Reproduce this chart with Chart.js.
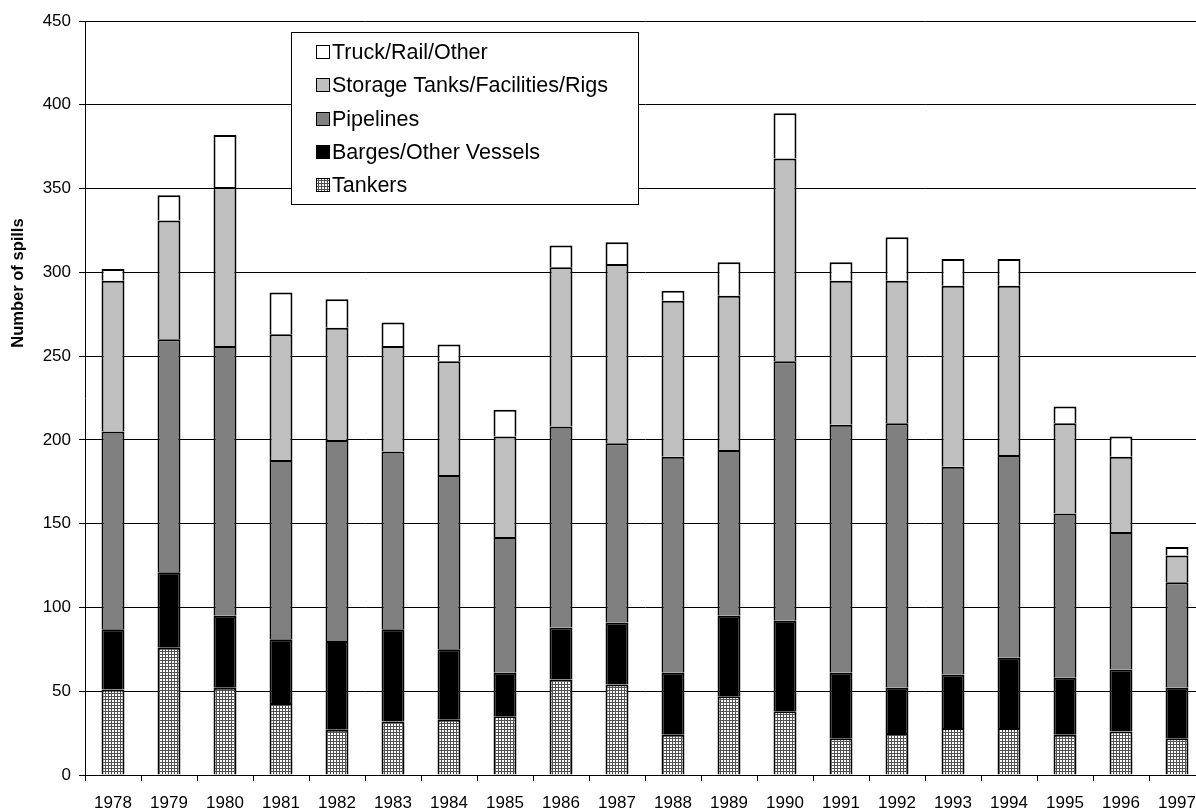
<!DOCTYPE html>
<html>
<head>
<meta charset="utf-8">
<script src="https://cdn.jsdelivr.net/npm/chart.js@4.4.1/dist/chart.umd.min.js"></script>
<style>
  html, body { margin: 0; padding: 0; background: #fff; overflow: hidden; width: 1196px; height: 811px; }
  canvas { display: block; }
</style>
</head>
<body>
<canvas id="spills" width="1210" height="811"></canvas>
<script>
// Oil spills per year, split by source
const years = ['1978','1979','1980','1981','1982','1983','1984','1985','1986','1987',
               '1988','1989','1990','1991','1992','1993','1994','1995','1996','1997'];
const tankers        = [51, 76, 52, 43, 27, 32, 33, 35, 57, 54, 24, 47, 38, 22, 25, 28, 28, 24, 26, 22];
const barges         = [36, 45, 43, 38, 53, 55, 42, 26, 31, 37, 37, 48, 54, 39, 27, 32, 42, 34, 37, 30];
const pipelines      = [118, 139, 161, 107, 120, 106, 104, 81, 120, 107, 129, 99, 155, 148, 158, 124, 121, 98, 82, 63];
const storage        = [90, 71, 95, 75, 67, 63, 68, 60, 95, 107, 93, 92, 121, 86, 85, 108, 101, 54, 45, 16];
const truckRailOther = [7, 15, 31, 25, 17, 14, 10, 16, 13, 13, 6, 20, 27, 11, 26, 16, 16, 10, 12, 5];

const yMax = 450;
const yStep = 50;
const yTitle = 'Number of spills';

const FONT = '"Liberation Sans", Arial, Helvetica, sans-serif';

const canvas = document.getElementById('spills');
const ctx = canvas.getContext('2d');

// Fine cross-hatch used for the tanker segments
function crossHatch() {
  const tile = document.createElement('canvas');
  tile.width = 3; tile.height = 3;
  const t = tile.getContext('2d');
  t.fillStyle = '#ffffff';
  t.fillRect(0, 0, 3, 3);
  t.fillStyle = '#505050';
  t.fillRect(0, 0, 3, 1);
  t.fillRect(0, 0, 1, 3);
  return ctx.createPattern(tile, 'repeat');
}

// Framed legend placed inside the plot, listed top series first
const boxLegend = {
  id: 'boxLegend',
  afterDraw(chart) {
    const c = chart.ctx;
    const left = 291.5, top = 32.5, w = 347, h = 172;
    c.save();
    c.fillStyle = '#fff';
    c.fillRect(left, top, w, h);
    c.strokeStyle = '#000';
    c.lineWidth = 1;
    c.strokeRect(left, top, w, h);
    c.font = '21.5px ' + FONT;
    c.textBaseline = 'middle';
    c.textAlign = 'left';
    const items = chart.data.datasets.slice().reverse();
    items.forEach((d, i) => {
      const cy = Math.round(52 + i * 33.3);
      c.fillStyle = d.backgroundColor;
      c.fillRect(316, cy - 7, 14, 14);
      c.strokeStyle = '#000';
      c.strokeRect(316.5, cy - 6.5, 13, 13);
      c.fillStyle = '#000';
      c.fillText(d.label, 332, cy + 1);
    });
    c.restore();
  }
};

// Vertical axis caption
const axisCaption = {
  id: 'axisCaption',
  afterDraw(chart) {
    const c = chart.ctx;
    c.save();
    c.translate(18, 283);
    c.rotate(-Math.PI / 2);
    c.font = 'bold 16.5px ' + FONT;
    c.fillStyle = '#000';
    c.textAlign = 'center';
    c.textBaseline = 'middle';
    c.fillText(yTitle, 0, 0);
    c.restore();
  }
};

const segment = (label, data, fill) => ({
  label, data,
  backgroundColor: fill,
  borderColor: '#000',
  borderWidth: 2,
  borderSkipped: 'start',
  barPercentage: 0.41,
  categoryPercentage: 1.0
});

new Chart(ctx, {
  type: 'bar',
  data: {
    labels: years,
    datasets: [
      segment('Tankers', tankers, crossHatch()),
      segment('Barges/Other Vessels', barges, '#000000'),
      segment('Pipelines', pipelines, '#808080'),
      segment('Storage Tanks/Facilities/Rigs', storage, '#c0c0c0'),
      segment('Truck/Rail/Other', truckRailOther, '#ffffff')
    ]
  },
  options: {
    responsive: false,
    animation: false,
    devicePixelRatio: 1,
    layout: { padding: { top: 21, right: 5, bottom: 0, left: 0 } },
    plugins: {
      legend: { display: false },
      tooltip: { enabled: false },
      title: { display: false }
    },
    scales: {
      x: {
        stacked: true,
        grid: {
          offset: true,
          drawOnChartArea: false,
          drawTicks: true,
          tickLength: 6,
          color: '#000'
        },
        border: { display: true, color: '#000', width: 1 },
        ticks: {
          color: '#000',
          font: { family: FONT, size: 17 },
          padding: 12,
          maxRotation: 0,
          autoSkip: false
        },
        afterFit(scale) { scale.height = 36; }
      },
      y: {
        stacked: true,
        min: 0,
        max: yMax,
        grid: {
          color: '#000',
          lineWidth: 1,
          drawTicks: true,
          tickLength: 6
        },
        border: { display: true, color: '#000', width: 1 },
        ticks: {
          stepSize: yStep,
          color: '#000',
          font: { family: FONT, size: 17 },
          padding: 8
        },
        afterFit(scale) { scale.width = 85; }
      }
    }
  },
  plugins: [boxLegend, axisCaption]
});
</script>
</body>
</html>
